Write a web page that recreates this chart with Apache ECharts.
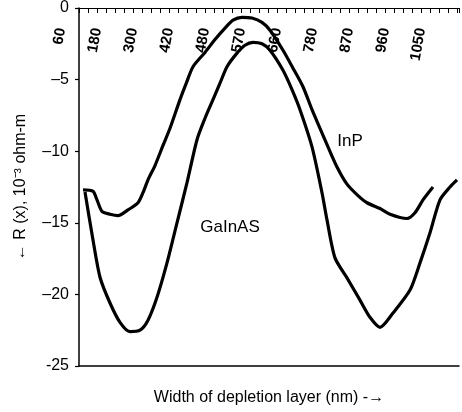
<!DOCTYPE html>
<html>
<head>
<meta charset="utf-8">
<script src="https://cdn.jsdelivr.net/npm/echarts@6/dist/echarts.min.js"></script>
<style>
  html, body { margin: 0; padding: 0; background: #fff; }
  #main { width: 462px; height: 412px; }
</style>
</head>
<body>
<div id="main"></div>
<script>
// Etiquetas del eje superior (tal como aparecen en la figura)
var topLabels = ['60', '180', '300', '420', '480', '570', '660', '780', '870', '960', '1050'];

// Curva InP (x, R)
var dataInP = [
  [12, -12.7], [42, -12.8], [54, -13.4], [69, -14.2], [93, -14.4], [117, -14.5],
  [147, -14.1], [177, -13.6], [192, -12.9], [207, -12.0], [228, -11.0], [252, -9.6],
  [273, -8.4], [303, -6.4], [321, -5.3], [342, -4.1], [378, -3.1], [408, -2.2],
  [438, -1.4], [462, -0.85], [489, -0.65], [519, -0.7], [549, -1.0], [573, -1.55],
  [612, -2.95], [642, -4.2], [672, -5.5], [699, -7.1], [723, -8.4], [747, -9.7],
  [774, -11.1], [804, -12.3], [837, -13.1], [864, -13.6], [903, -14.0], [933, -14.4],
  [984, -14.7], [1008, -14.3], [1032, -13.4], [1062, -12.5]
];

// Curva GaInAS (x, R)
var dataGaInAS = [
  [18, -12.85], [42, -16.2], [63, -18.8], [93, -20.6], [123, -21.95], [153, -22.6],
  [183, -22.5], [207, -21.8], [234, -20.2], [264, -17.8], [294, -15.0], [324, -12.2],
  [354, -9.2], [378, -7.7], [402, -6.4], [423, -5.25], [444, -4.1], [474, -3.15],
  [498, -2.6], [522, -2.4], [549, -2.5], [573, -2.95], [612, -4.35], [639, -5.7],
  [663, -7.1], [699, -9.7], [729, -12.9], [744, -14.8], [768, -17.45], [804, -18.85],
  [843, -20.4], [873, -21.6], [903, -22.3], [942, -21.3], [993, -19.7], [1023, -17.8],
  [1053, -15.7], [1083, -13.4], [1113, -12.5], [1134, -12.0]
];

// Posicion de los rotulos de cada curva
var rotuloInP = [813, -9.3];
var rotuloGaInAS = [453, -15.3];

var grafico = echarts.init(document.getElementById('main'));

var fuente = 'Liberation Sans, Arial, sans-serif';

var rotulo = function (texto, coord) {
  return {
    symbol: 'circle', symbolSize: 0, silent: true,
    data: [{ coord: coord }],
    label: { show: true, position: 'inside', formatter: texto, color: '#000', fontSize: 17, fontFamily: fuente }
  };
};

var option = {
  animation: false,
  grid: [
    { left: 79, right: 3, top: 8, bottom: 46 },
    // franja para las etiquetas rotadas del eje superior
    { left: 61, right: 3, top: 6, height: 14 },
    // franja cuyo borde inferior hace de eje superior con sus marcas
    { left: 79, right: 3, top: 0, height: 8 }
  ],
  xAxis: [
    {
      type: 'value', gridIndex: 0, position: 'bottom',
      min: 0, max: 1140,
      axisLine: { show: true, onZero: false, lineStyle: { color: '#000', width: 1.5 } },
      axisTick: { show: false },
      axisLabel: { show: false },
      splitLine: { show: false },
      name: 'Width of depletion layer (nm) -\u2192',
      nameLocation: 'middle',
      nameGap: 24,
      nameTextStyle: { color: '#000', fontSize: 16, fontFamily: fuente }
    },
    {
      type: 'value', gridIndex: 1, position: 'bottom',
      min: 0, max: 1326, interval: 120,
      axisLine: { show: false },
      axisTick: { show: false },
      splitLine: { show: false },
      axisLabel: {
        show: true, rotate: 80, margin: 8,
        color: '#000', fontSize: 15, fontWeight: 'bold', fontFamily: fuente,
        showMaxLabel: false,
        formatter: function (v) {
          var i = Math.round(v / 120);
          return topLabels[i] || '';
        }
      }
    },
    {
      type: 'value', gridIndex: 2, position: 'bottom',
      min: 0, max: 1140, interval: 27,
      axisLine: { show: true, onZero: false, lineStyle: { color: '#000', width: 1.2 } },
      axisTick: { show: true, inside: false, length: 5, lineStyle: { color: '#000', width: 1 } },
      axisLabel: { show: false },
      splitLine: { show: false }
    }
  ],
  yAxis: [
    {
      type: 'value', gridIndex: 0,
      min: -25, max: 0, interval: 5,
      axisLine: { show: true, lineStyle: { color: '#000', width: 1.5 } },
      axisTick: { show: true, length: 4, lineStyle: { color: '#000', width: 1.2 } },
      axisLabel: {
        color: '#000', fontSize: 16, fontFamily: fuente, margin: 10,
        formatter: function (v) { return v < 0 && v > -25 ? '\u2013' + (-v) : String(v); }
      },
      splitLine: { show: false },
      name: '\u2190 R (x), 10\u207B\u00B3 ohm-m',
      nameLocation: 'middle',
      nameGap: 50,
      nameRotate: 90,
      nameTextStyle: { color: '#000', fontSize: 16, fontFamily: fuente }
    },
    { type: 'value', gridIndex: 1, show: false, min: 0, max: 1 },
    { type: 'value', gridIndex: 2, show: false, min: 0, max: 1 }
  ],
  series: [
    {
      name: 'InP', type: 'line', xAxisIndex: 0, yAxisIndex: 0,
      symbol: 'none', smooth: 0.25,
      lineStyle: { color: '#000', width: 3.2 },
      markPoint: rotulo('InP', rotuloInP),
      data: dataInP
    },
    {
      name: 'GaInAS', type: 'line', xAxisIndex: 0, yAxisIndex: 0,
      symbol: 'none', smooth: 0.25,
      lineStyle: { color: '#000', width: 3.2 },
      markPoint: rotulo('GaInAS', rotuloGaInAS),
      data: dataGaInAS
    }
  ]
};

grafico.setOption(option);
</script>
</body>
</html>
